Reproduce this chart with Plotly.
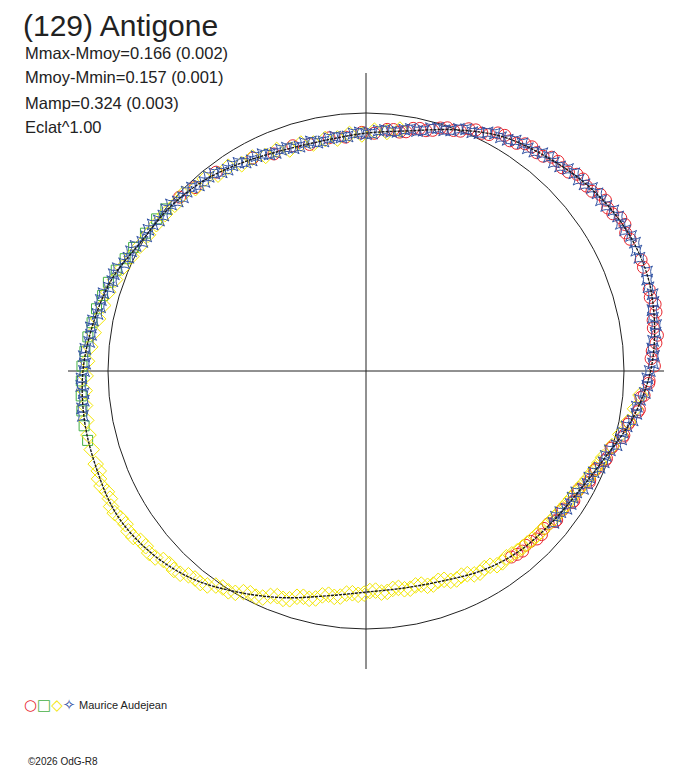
import plotly.graph_objects as go

# Polar lightcurve of (129) Antigone
# angle = rotation phase (deg), radius = brightness relative to the mean circle (1.0)

# fitted curve, read every 10 deg
fit_theta = [0, 10, 20, 30, 40, 50, 60, 70, 80, 90, 100, 110, 120, 130, 140, 150, 160, 170,
             180, 190, 200, 210, 220, 230, 240, 250, 260, 270, 280, 290, 300, 310, 320, 330,
             340, 350, 360]
fit_r = [1.103, 1.135, 1.153, 1.145, 1.120, 1.085, 1.050, 0.995, 0.945, 0.922, 0.908, 0.913,
         0.937, 0.968, 0.990, 1.005, 1.047, 1.073, 1.097, 1.108, 1.111, 1.115, 1.092, 1.050,
         0.990, 0.935, 0.885, 0.857, 0.854, 0.866, 0.894, 0.916, 0.928, 0.946, 0.985, 1.050,
         1.103]

# session 1 - red circles
red_theta = [308, 311, 314, 317, 320, 322, 325, 328, 331, 334, 337, 340, 343, 346, 349, 352,
             355, 358, 1, 4, 7, 10, 13, 16, 19, 22, 25, 28, 31, 34, 37, 40, 43, 46, 49, 52,
             55, 58, 61, 64, 67, 70, 73, 76, 79, 82, 85, 88, 91, 95, 99, 104, 108, 113, 118,
             127, 133, 137,
             309.5, 312.5, 315.5, 318.5, 321.5, 324.5, 327.5, 330.5, 333.5, 336.5, 339.5,
             342.5, 345.5, 348.5, 351.5, 354.5, 357.5, 2.5, 5.5, 8.5, 11.5, 14.5, 17.5, 20.5,
             23.5, 26.5, 29.5, 32.5, 35.5, 38.5, 41.5, 44.5, 47.5, 50.5, 53.5, 56.5, 59.5,
             62.5, 65.5, 68.5, 71.5, 74.5, 77.5, 80.5, 83.5]
red_r = [0.915, 0.925, 0.918, 0.930, 0.922, 0.938, 0.933, 0.950, 0.944, 0.965, 0.970, 0.992,
         1.000, 1.030, 1.040, 1.070, 1.082, 1.098, 1.118, 1.112, 1.138, 1.130, 1.150, 1.142,
         1.160, 1.150, 1.158, 1.140, 1.152, 1.130, 1.137, 1.115, 1.118, 1.095, 1.098, 1.074,
         1.075, 1.052, 1.055, 1.025, 1.020, 0.992, 0.985, 0.960, 0.958, 0.935, 0.940, 0.922,
         0.925, 0.910, 0.915, 0.905, 0.918, 0.914, 0.935, 0.965, 0.972, 0.988,
         0.921, 0.916, 0.929, 0.921, 0.937, 0.931, 0.948, 0.942, 0.967, 0.966, 0.990,
         0.996, 1.028, 1.036, 1.066, 1.070, 1.097, 1.106, 1.129, 1.126, 1.147, 1.138, 1.156,
         1.148, 1.160, 1.144, 1.153, 1.134, 1.140, 1.119, 1.123, 1.100, 1.102, 1.079, 1.081,
         1.058, 1.060, 1.033, 1.027, 0.999, 0.994, 0.968, 0.963, 0.940, 0.942]

# session 2 - green squares
green_theta = [141, 144, 148, 152, 155, 158, 161, 164, 167, 170, 173, 176, 179, 182, 185, 188,
               191, 194]
green_r = [0.998, 1.003, 1.008, 1.020, 1.030, 1.044, 1.056, 1.062, 1.072, 1.078, 1.086, 1.092,
           1.101, 1.104, 1.108, 1.112, 1.113, 1.112]

# session 3 - yellow diamonds
yellow_theta = [82, 85, 88, 91, 94, 97, 100, 103, 106, 109, 112, 115, 118, 121, 124, 127, 130,
                133, 136, 139, 142, 145, 148, 151, 154, 157, 160, 163, 166, 169, 172, 175, 178,
                181, 184, 187, 190, 193, 196, 199, 202, 205, 208, 211, 214, 217, 220, 223, 226,
                229, 232, 235, 238, 241, 244, 247, 250, 253, 256, 259, 262, 265, 268, 271, 274,
                277, 280, 283, 286, 289, 292, 295, 298, 301, 304, 307, 310, 313, 316, 319, 322,
                325, 328, 331, 334, 337, 340, 343, 346, 349, 352, 355,
                200.5, 203.5, 206.5, 209.5, 212.5, 215.5, 218.5, 221.5, 224.5, 227.5, 230.5,
                233.5, 236.5, 239.5, 242.5, 245.5, 248.5, 251.5, 254.5, 257.5, 260.5, 263.5,
                266.5, 269.5, 272.5, 275.5, 278.5, 281.5, 284.5, 287.5, 290.5, 293.5, 296.5,
                299.5, 302.5, 305.5, 308.5, 311.5, 314.5, 317.5, 320.5, 323.5, 326.5, 329.5,
                332.5, 335.5, 338.5]
yellow_r = [0.945, 0.930, 0.932, 0.917, 0.921, 0.908, 0.913, 0.905, 0.917, 0.908, 0.924, 0.920,
            0.937, 0.935, 0.955, 0.953, 0.972, 0.969, 0.986, 0.982, 0.988, 0.992, 0.996, 1.001,
            1.012, 1.025, 1.035, 1.045, 1.050, 1.058, 1.066, 1.073, 1.082, 1.087, 1.093, 1.097,
            1.101, 1.104, 1.106, 1.108, 1.116, 1.108, 1.119, 1.109, 1.111, 1.094, 1.097, 1.074,
            1.072, 1.049, 1.043, 1.015, 1.007, 0.980, 0.973, 0.947, 0.940, 0.915, 0.910, 0.886,
            0.884, 0.866, 0.868, 0.853, 0.861, 0.851, 0.859, 0.853, 0.866, 0.860, 0.877, 0.875,
            0.893, 0.891, 0.908, 0.904, 0.912, 0.915, 0.918, 0.921, 0.926, 0.930, 0.936, 0.943,
            0.955, 0.966, 0.978, 0.997, 1.016, 1.035, 1.053, 1.068,
            1.106, 1.118, 1.109, 1.119, 1.105, 1.108, 1.091, 1.091, 1.068, 1.066, 1.042,
            1.034, 1.006, 0.998, 0.971, 0.965, 0.938, 0.933, 0.908, 0.903, 0.879, 0.880,
            0.863, 0.863, 0.852, 0.860, 0.850, 0.861, 0.855, 0.868, 0.864, 0.881, 0.880,
            0.898, 0.895, 0.911, 0.908, 0.914, 0.917, 0.920, 0.923, 0.928, 0.933, 0.939,
            0.949, 0.960, 0.972]

# session 4 - blue stars
blue_theta = [321, 324, 327, 330, 333, 336, 339, 342, 345, 348, 351, 354, 357, 0, 3, 6, 9, 12,
              15, 18, 21, 24, 27, 30, 33, 36, 39, 42, 45, 48, 51, 54, 57, 60, 63, 66, 69, 72,
              75, 78, 81, 84, 87, 90, 93, 96, 99, 102, 105, 108, 111, 114, 117, 120, 123, 126,
              129, 132, 135, 138, 141, 144, 147, 150, 153, 156, 159, 162, 165, 168, 171, 174,
              177, 180, 183, 186, 189,
              322.5, 325.5, 328.5, 331.5, 334.5, 337.5, 340.5, 343.5, 346.5, 349.5, 352.5,
              355.5, 358.5, 1.5, 4.5, 7.5, 10.5, 13.5, 16.5, 19.5, 22.5, 25.5, 28.5, 31.5,
              34.5, 37.5, 40.5, 43.5, 46.5, 49.5, 52.5, 55.5, 58.5, 61.5, 64.5, 67.5, 70.5,
              73.5, 76.5, 79.5, 82.5, 85.5, 88.5, 91.5, 94.5, 97.5, 100.5, 103.5, 106.5, 109.5,
              112.5, 115.5, 118.5, 121.5, 124.5, 127.5, 130.5, 133.5, 136.5, 139.5, 142.5,
              145.5, 148.5, 151.5, 154.5, 157.5, 160.5, 163.5, 166.5, 169.5, 172.5, 175.5,
              178.5, 181.5, 184.5, 187.5]
blue_r = [0.935, 0.931, 0.946, 0.941, 0.963, 0.966, 0.987, 0.994, 1.024, 1.033, 1.061, 1.068,
          1.092, 1.100, 1.118, 1.119, 1.138, 1.135, 1.150, 1.146, 1.157, 1.147, 1.153, 1.141,
          1.143, 1.126, 1.127, 1.109, 1.107, 1.088, 1.086, 1.067, 1.065, 1.046, 1.038, 1.013,
          1.005, 0.981, 0.974, 0.951, 0.947, 0.932, 0.933, 0.918, 0.922, 0.910, 0.913, 0.905,
          0.915, 0.908, 0.919, 0.919, 0.934, 0.933, 0.950, 0.952, 0.969, 0.968, 0.983, 0.982,
          0.996, 0.992, 1.005, 1.001, 1.022, 1.026, 1.047, 1.048, 1.064, 1.064, 1.080, 1.079,
          1.095, 1.093, 1.105, 1.100, 1.111,
          0.928, 0.943, 0.939, 0.957, 0.959, 0.980, 0.986, 1.013, 1.023, 1.051, 1.059,
          1.084, 1.091, 1.113, 1.113, 1.132, 1.131, 1.146, 1.142, 1.155, 1.147, 1.155, 1.143,
          1.146, 1.130, 1.131, 1.114, 1.113, 1.093, 1.092, 1.072, 1.071, 1.051, 1.047, 1.021,
          1.014, 0.989, 0.982, 0.958, 0.954, 0.935, 0.937, 0.921, 0.925, 0.912, 0.916, 0.905,
          0.915, 0.907, 0.918, 0.915, 0.931, 0.929, 0.946, 0.947, 0.965, 0.964, 0.980, 0.978,
          0.994, 0.990, 1.003, 0.999, 1.016, 1.020, 1.041, 1.043, 1.061, 1.060, 1.076, 1.075,
          1.091, 1.089, 1.103, 1.098, 1.110]

# header texts
title_text = "(129) Antigone"
info_lines = ["Mmax-Mmoy=0.166 (0.002)", "Mmoy-Mmin=0.157 (0.001)", "Mamp=0.324 (0.003)",
              "Eclat^1.00"]
observer = "Maurice Audejean"
credit = "©2026 OdG-R8"

RED = '#e8262e'
GREEN = '#44b043'
YELLOW = '#f2e600'
BLUE = '#3354a4'


def session(theta, r, symbol, size, color):
    return go.Scatterpolar(
        theta=theta, r=r, mode='markers', cliponaxis=False, hoverinfo='skip',
        marker=dict(symbol=symbol, size=size, color=color, line=dict(width=1, color=color))
    )


fig = go.Figure()
fig.add_trace(session(red_theta, red_r, 'circle-open', 12, RED))
fig.add_trace(session(green_theta, green_r, 'square-open', 10, GREEN))
fig.add_trace(session(yellow_theta, yellow_r, 'diamond-open', 12, YELLOW))
fig.add_trace(session(blue_theta, blue_r, 'star-square-open', 10, BLUE))
fig.add_trace(go.Scatterpolar(
    theta=fit_theta, r=fit_r, mode='lines', cliponaxis=False, hoverinfo='skip',
    line=dict(color='#1a1a1a', width=1.4, shape='spline', dash='3px,1px')
))

# the page body adds an 8px margin, so everything is placed 8px up/left
W, H = 680, 760
cx, cy, R = 358, 363, 298

fig.update_layout(
    width=W, height=H,
    margin=dict(l=0, r=0, t=0, b=0),
    paper_bgcolor='white',
    showlegend=False,
    font=dict(family='Liberation Sans, Arial', color='#222222'),
    polar=dict(
        domain=dict(x=[(cx - R) / W, (cx + R) / W], y=[(H - cy - R) / H, (H - cy + R) / H]),
        bgcolor='rgba(0,0,0,0)',
        radialaxis=dict(range=[0, 1.155], tickvals=[1], showticklabels=False, ticks='',
                        showline=False, gridcolor='#222222', gridwidth=1),
        angularaxis=dict(tickvals=[0, 90, 180, 270], showticklabels=False, ticks='',
                         showline=False, gridcolor='#222222', gridwidth=1,
                         rotation=0, direction='counterclockwise'),
    ),
)

fig.add_annotation(text=title_text, x=14 / W, y=1 - 17.5 / H, xref='paper', yref='paper',
                   xanchor='left', yanchor='middle', showarrow=False, borderpad=0,
                   font=dict(size=30, color='#222222'))
for i, line in enumerate(info_lines):
    fig.add_annotation(text=line, x=16 / W, y=1 - (44.5 + 25 * i) / H, xref='paper',
                       yref='paper', xanchor='left', yanchor='middle', showarrow=False,
                       borderpad=0, font=dict(size=16.5, color='#222222'))

legend_syms = (f"<span style='color:{RED}'>○</span><span style='color:{GREEN}'>□</span>"
               f"<span style='color:{YELLOW}'>◇</span><span style='color:{BLUE}'>✧</span>")
fig.add_annotation(text=legend_syms, x=14 / W, y=1 - 697 / H, xref='paper', yref='paper',
                   xanchor='left', yanchor='middle', showarrow=False,
                   font=dict(family='DejaVu Sans', size=15))
fig.add_annotation(text=observer, x=69 / W, y=1 - 697 / H, xref='paper', yref='paper',
                   xanchor='left', yanchor='middle', showarrow=False,
                   font=dict(size=11, color='#222222'))
fig.add_annotation(text=credit, x=18 / W, y=1 - 753 / H, xref='paper', yref='paper',
                   xanchor='left', yanchor='middle', showarrow=False,
                   font=dict(size=10, color='#222222'))

fig.write_html("out.html")
